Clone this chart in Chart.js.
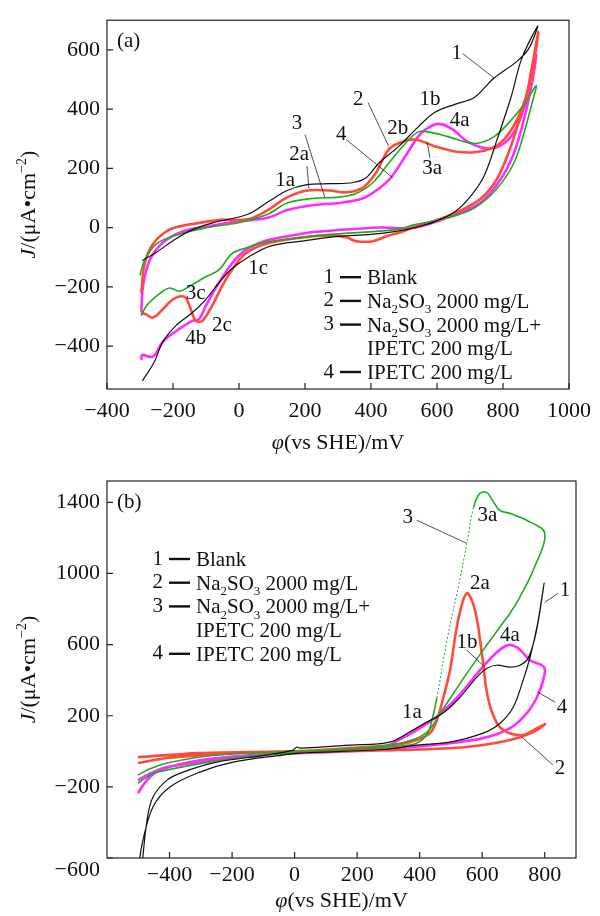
<!DOCTYPE html>
<html>
<head>
<meta charset="utf-8">
<script src="https://cdn.jsdelivr.net/npm/chart.js@4.4.0/dist/chart.umd.min.js"></script>
<style>
  body { margin: 0; background: #fff; }
  #wrap { position: relative; width: 600px; height: 916px; }
  canvas { position: absolute; left: 0; }
</style>
</head>
<body>
<div id="wrap">
  <canvas id="chartA" width="600" height="458" style="top:0"></canvas>
  <canvas id="chartB" width="600" height="458" style="top:458px"></canvas>
</div>
<script>
// panel (a): potential E (mV vs SHE) and current density J (uA/cm2), loop order
const aBlankE = [-293, -251, -201, -141, -72, 27, 87, 146, 206, 275, 346, 385, 424, 484, 543, 594, 654, 713, 773, 842, 878, 905, 857, 824, 782, 743, 704, 654, 594, 534, 475, 400, 300, 197, 97, 28, -22, -62, -101, -141, -191, -231, -256, -293];
const aBlankJ = [-111, -84, -45, -7, 18, 45, 86, 125, 145, 148, 152, 168, 218, 274, 340, 389, 416, 439, 505, 561, 604, 680, 571, 439, 297, 175, 109, 53, 20, 0, -13, -23, -30, -45, -62, -100, -139, -188, -243, -287, -331, -386, -452, -518];
const aNaE = [-296, -286, -261, -211, -151, -52, 27, 87, 146, 206, 275, 325, 376, 415, 454, 496, 534, 594, 654, 713, 764, 803, 842, 869, 887, 907, 884, 854, 824, 782, 734, 663, 585, 534, 496, 445, 406, 355, 325, 275, 187, 78, 18, -22, -52, -82, -111, -131, -146, -161, -176, -201, -231, -261, -281, -296];
const aNaJ = [-221, -122, -56, -7, 10, 26, 28, 59, 102, 125, 125, 119, 135, 185, 264, 290, 297, 274, 257, 254, 267, 297, 363, 439, 538, 660, 495, 383, 274, 165, 99, 53, 20, 3, -13, -30, -46, -46, -33, -27, -34, -56, -89, -144, -199, -265, -315, -315, -276, -238, -232, -243, -276, -304, -293, -287];
const aNaIpE = [-300, -286, -251, -201, -101, -2, 87, 146, 227, 296, 355, 406, 454, 504, 543, 573, 633, 713, 773, 833, 872, 901, 887, 863, 833, 782, 713, 633, 534, 475, 275, 187, 78, 18, -22, -62, -101, -151, -181, -211, -251, -281, -296];
const aNaIpJ = [-161, -111, -56, -29, -1, 16, 45, 83, 99, 102, 115, 152, 218, 284, 323, 323, 307, 284, 307, 373, 429, 479, 416, 317, 218, 132, 66, 33, 10, -7, -23, -34, -50, -70, -89, -144, -166, -199, -215, -204, -232, -265, -298];
const aIpE = [-296, -291, -271, -231, -171, -101, -2, 87, 146, 227, 305, 376, 424, 460, 504, 543, 564, 603, 645, 693, 752, 803, 842, 872, 893, 901, 887, 863, 833, 794, 734, 654, 534, 424, 227, 187, 78, 18, -22, -62, -101, -121, -141, -181, -231, -261, -293, -296];
const aIpJ = [-287, -199, -111, -51, -13, 3, 21, 33, 59, 76, 83, 99, 132, 168, 241, 307, 330, 350, 333, 290, 267, 284, 340, 439, 538, 581, 482, 363, 251, 165, 86, 43, 0, 0, -15, -22, -45, -78, -122, -188, -265, -309, -315, -342, -386, -436, -430, -447];

// panel (b)
const bBlankE = [-490, -472, -453, -408, -357, -249, -89, -5, 7, 17, 176, 304, 369, 423, 475, 529, 583, 615, 647, 689, 721, 747, 769, 785, 798, 791, 775, 753, 731, 699, 657, 603, 497, 391, 282, 17, -38, -197, -303, -399, -453, -485, -497];
const bBlankJ = [-680, -387, -257, -162, -117, -61, -21, 7, 24, 18, 35, 52, 110, 164, 215, 304, 417, 467, 484, 473, 484, 524, 642, 793, 945, 866, 698, 529, 400, 248, 158, 102, 52, 35, 10, -10, -21, -61, -117, -201, -313, -499, -620];
const bNaE = [-501, -303, 17, 176, 337, 391, 433, 455, 471, 497, 523, 551, 577, 599, 618, 647, 679, 731, 775, 801, 763, 689, 551, 337, 17, -197, -408, -501];
const bNaJ = [-33, -10, 1, 18, 40, 63, 102, 175, 271, 456, 737, 889, 793, 551, 304, 158, 108, 91, 130, 153, 108, 63, 24, 7, -4, -10, -38, -66];
const bNaIpE = [-501, -472, -408, -249, 17, 176, 337, 391, 425, 440, 455, 487, 526, 551, 572, 592, 614, 633, 656, 688, 742, 800, 763, 720, 689, 656, 603, 540, 470, 420, 337, 176, 17, -197, -440, -472, -501];
const bNaIpJ = [-134, -106, -66, -21, 0, 10, 30, 46, 100, 180, 300, 620, 945, 1170, 1370, 1450, 1456, 1411, 1355, 1338, 1299, 1226, 1018, 866, 776, 698, 569, 410, 225, 102, 45, 12, -5, -40, -117, -145, -179];
const bIpE = [-501, -472, -408, -197, 17, 282, 350, 401, 465, 529, 593, 647, 683, 715, 753, 798, 795, 775, 743, 689, 603, 443, 337, 176, 17, -89, -303, -431, -472, -501];
const bIpJ = [-162, -134, -89, -38, -4, 24, 80, 130, 210, 320, 456, 557, 597, 580, 512, 473, 400, 304, 215, 130, 74, 35, 18, 1, -10, -16, -50, -106, -162, -235];

// tick labels
const aXTicks = [-400, -200, 0, 200, 400, 600, 800, 1000];
const aYTicks = [-400, -200, 0, 200, 400, 600];
const bXTicks = [-400, -200, 0, 200, 400, 600, 800];
const bYTicks = [-600, -200, 200, 600, 1000, 1400];

// curve labels [text, E, J] and leader lines [E1, J1, E2, J2]
const aNotes = [['1', 660, 587], ['2', 361, 432], ['3', 176, 350], ['4', 310, 314], ['1a', 140, 158], ['2a', 182, 248], ['1b', 579, 432], ['2b', 481, 333], ['3a', 585, 198], ['4a', 669, 363], ['1c', 58, -139], ['3c', -131, -221], ['2c', -52, -330], ['4b', -131, -376]];
const aLeaders = [[678, 587, 773, 505], [391, 422, 454, 274], [200, 314, 260, 102], [325, 297, 466, 168], [206, 208, 212, 132], [570, 290, 579, 234]];
const bNotes = [['3', 362, 1316], ['3a', 617, 1327], ['2a', 593, 945], ['1', 865, 906], ['1b', 551, 613], ['4a', 689, 653], ['1a', 375, 220], ['4', 855, 248], ['2', 849, -94]];
const bLeaders = [[391, 1299, 550, 1170], [843, 889, 800, 838], [551, 568, 609, 473], [833, 276, 778, 333], [826, -77, 727, 80]];

// legend rows: number, text pieces ('s' = subscript)
const legendRows = [
    ['1', [['Blank']]],
    ['2', [['Na'], ['2', 's'], ['SO'], ['3', 's'], [' 2000 mg/L']]],
    ['3', [['Na'], ['2', 's'], ['SO'], ['3', 's'], [' 2000 mg/L+']]],
    ['', [['IPETC 200 mg/L']]],
    ['4', [['IPETC 200 mg/L']]]
];
const yTitle = [['J', 'i'], ['/(\u03bcA\u2022cm'], ['\u22122', 'u'], [')']];
const xTitle = [['\u03c6', 'i'], ['(vs SHE)/mV']];

const FONT = '"Liberation Serif", "Times New Roman", serif';

function fontFor(mode, size) {
    let sz = (mode === 's' || mode === 'u') ? Math.round(size * 0.64) : size;
    return (mode === 'i' ? 'italic ' : '') + sz + 'px ' + FONT;
}

function drawRich(ctx, segs, x, y, size, align) {
    let w = 0;
    segs.forEach(s => { ctx.font = fontFor(s[1], size); w += ctx.measureText(s[0]).width; });
    let cx = align === 'center' ? x - w / 2 : x;
    ctx.textAlign = 'left';
    ctx.textBaseline = 'alphabetic';
    segs.forEach(s => {
        ctx.font = fontFor(s[1], size);
        let dy = s[1] === 's' ? size * 0.25 : (s[1] === 'u' ? -size * 0.42 : 0);
        ctx.fillText(s[0], cx, y + dy);
        cx += ctx.measureText(s[0]).width;
    });
}

const decor = {
    id: 'decor',
    afterDraw(chart, args, opts) {
        const ctx = chart.ctx, area = chart.chartArea;
        const xs = chart.scales.x, ys = chart.scales.y;
        ctx.save();
        ctx.fillStyle = '#111';
        ctx.strokeStyle = '#222';
        // frame
        ctx.lineWidth = 1.2;
        ctx.strokeRect(area.left, area.top, area.right - area.left, area.bottom - area.top);
        // inward tick marks
        ctx.beginPath();
        xs.ticks.forEach(t => {
            let p = xs.getPixelForValue(t.value);
            ctx.moveTo(p, area.bottom);
            ctx.lineTo(p, area.bottom - 6);
        });
        ys.ticks.forEach(t => {
            let p = ys.getPixelForValue(t.value);
            ctx.moveTo(area.left, p);
            ctx.lineTo(area.left + 6, p);
        });
        ctx.stroke();

        // bottom y label sits a bit lower in the original
        if (opts.lowTick !== undefined) {
            ctx.font = '22px ' + FONT;
            ctx.textAlign = 'right';
            ctx.textBaseline = 'middle';
            ctx.fillText(minus(opts.lowTick), area.left - 7, ys.getPixelForValue(opts.lowTick) + 12);
        }

        // leader lines
        ctx.lineWidth = 0.8;
        ctx.beginPath();
        opts.leaders.forEach(l => {
            ctx.moveTo(xs.getPixelForValue(l[0]), ys.getPixelForValue(l[1]));
            ctx.lineTo(xs.getPixelForValue(l[2]), ys.getPixelForValue(l[3]));
        });
        ctx.stroke();

        // curve labels
        ctx.font = '21px ' + FONT;
        ctx.textAlign = 'center';
        ctx.textBaseline = 'middle';
        opts.notes.forEach(n => {
            ctx.fillText(n[0], xs.getPixelForValue(n[1]), ys.getPixelForValue(n[2]));
        });

        // panel tag
        ctx.textAlign = 'left';
        ctx.font = '21px ' + FONT;
        ctx.fillText(opts.tag, area.left + 10, area.top + 21);

        // legend
        let lx = area.left + opts.legendX, ly = area.top + opts.legendY;
        legendRows.forEach((r, i) => {
            let cy = ly + i * 23.7;
            if (r[0]) {
                ctx.font = '21px ' + FONT;
                ctx.textAlign = 'right';
                ctx.textBaseline = 'middle';
                ctx.fillText(r[0], lx, cy);
                ctx.lineWidth = 2.4;
                ctx.strokeStyle = '#111';
                ctx.beginPath();
                ctx.moveTo(lx + 6, cy);
                ctx.lineTo(lx + 27, cy);
                ctx.stroke();
            }
            drawRich(ctx, r[1], lx + 33, cy + 7, 21, 'left');
        });

        // axis titles
        drawRich(ctx, xTitle, (area.left + area.right) / 2, area.bottom + opts.titleGap, 22, 'center');
        ctx.translate(35, (area.top + area.bottom) / 2);
        ctx.rotate(-Math.PI / 2);
        drawRich(ctx, yTitle, 0, 0, 22, 'center');
        ctx.restore();
    }
};

function pts(e, j) {
    return e.map((v, i) => ({ x: v, y: j[i] }));
}

function curve(e, j, color, width, extra) {
    return Object.assign({
        data: pts(e, j),
        showLine: true,
        borderColor: color,
        borderWidth: width,
        pointRadius: 0,
        tension: 0.35,
        fill: false
    }, extra || {});
}

function minus(v) {
    return String(v).replace('-', '\u2212');
}

function makeChart(id, datasets, xr, yr, xt, yt, top, xh, xpad, decorOpts) {
    let tickFont = { family: FONT, size: 22 };
    return new Chart(document.getElementById(id), {
        type: 'scatter',
        data: { datasets: datasets },
        options: {
            responsive: false,
            animation: false,
            events: [],
            layout: { padding: { left: 0, top: top, right: 24, bottom: 0 } },
            scales: {
                x: {
                    type: 'linear', min: xr[0], max: xr[1],
                    grid: { display: false, drawTicks: false },
                    border: { display: false },
                    ticks: { font: tickFont, color: '#111', padding: xpad, maxRotation: 0, autoSkip: false, callback: v => minus(v) },
                    afterBuildTicks: s => { s.ticks = xt.map(v => ({ value: v })); },
                    afterFit: s => { s.height = xh; }
                },
                y: {
                    type: 'linear', min: yr[0], max: yr[1],
                    grid: { display: false, drawTicks: false },
                    border: { display: false },
                    ticks: { font: tickFont, color: '#111', padding: 7, autoSkip: false,
                        callback: v => v === decorOpts.lowTick ? '' : minus(v) },
                    afterBuildTicks: s => { s.ticks = yt.map(v => ({ value: v })); },
                    afterFit: s => { s.width = 107; }
                }
            },
            plugins: {
                legend: { display: false },
                tooltip: { enabled: false },
                decor: decorOpts
            }
        },
        plugins: [decor]
    });
}

const BLACK = '#111111', RED = '#ff4a3c', GREEN = '#1faa1f', MAGENTA = '#ff2cff';

makeChart('chartA', [
    curve(aBlankE, aBlankJ, BLACK, 1.2),
    curve(aNaIpE, aNaIpJ, GREEN, 1.6),
    curve(aNaE, aNaJ, RED, 2.6),
    curve(aIpE, aIpJ, MAGENTA, 2.6)
], [-400, 1000], [-545, 700], aXTicks, aYTicks, 13, 69, 9,
    { tag: '(a)', notes: aNotes, leaders: aLeaders, legendX: 227, legendY: 257, titleGap: 60 });

function dotted(c) {
    return c.p0.parsed.x >= 445 && c.p1.parsed.x <= 580 && c.p1.parsed.y > c.p0.parsed.y;
}

makeChart('chartB', [
    curve(bBlankE, bBlankJ, BLACK, 1.2),
    curve(bNaIpE, bNaIpJ, GREEN, 1.6, {
        segment: {
            borderDash: c => dotted(c) ? [2, 2] : undefined,
            borderWidth: c => dotted(c) ? 1 : undefined
        }
    }),
    curve(bNaE, bNaJ, RED, 2.6),
    curve(bIpE, bIpJ, MAGENTA, 2.6)
], [-600, 900], [-600, 1520], bXTicks, bYTicks, 23, 58, 4,
    { tag: '(b)', notes: bNotes, leaders: bLeaders, legendX: 56, legendY: 78, titleGap: 49, lowTick: -600 });
</script>
</body>
</html>
